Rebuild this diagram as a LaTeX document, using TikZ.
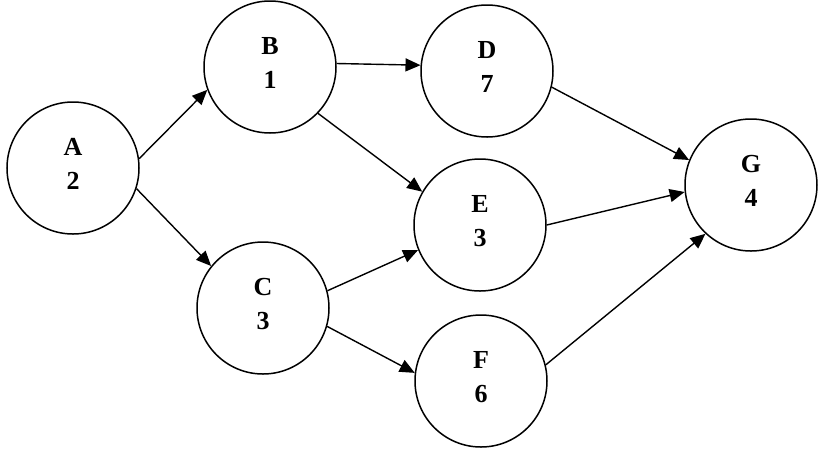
\documentclass[tikz,border=0pt]{standalone}
\usepackage{fontspec}
\setmainfont{Liberation Serif}
\usetikzlibrary{arrows.meta}
\tikzset{
  vertex/.style={circle,draw,line width=1.5pt,minimum size=132pt,inner sep=0pt,align=center,font=\fontsize{26pt}{34pt}\selectfont\bfseries},
  edge/.style={draw,line width=1.4pt,-{Triangle[length=15pt,width=13pt]}}
}
\newcommand{\lowdepth}{\rule[-8pt]{0pt}{8pt}}

\begin{document}
\begin{tikzpicture}[x=1pt,y=-1pt]
    \useasboundingbox (0,0) rectangle (823,451);
    % First we draw the vertices
    \foreach \pos/\name/\weight in {{(73,168)/A/2}, {(270,67)/B/1}, {(263,308)/C/3}, {(487,71)/D/7}, {(480,225)/E/3}, {(481,381)/F/6}, {(751,185)/G/4}}
        \node[vertex] (\name) at \pos {\name\\\weight\lowdepth};

    % Connect vertices with edges
    \foreach \source/\sa/\dest/\da in {A/8/B/200, A/-18/C/141, B/3/D/175, B/-44/E/150, C/15/E/202, C/-16/F/173, D/-14/G/158, E/0/G/186, F/14/G/227}
        \path[edge] (\source.\sa) -- (\dest.\da);
\end{tikzpicture}
\end{document}
